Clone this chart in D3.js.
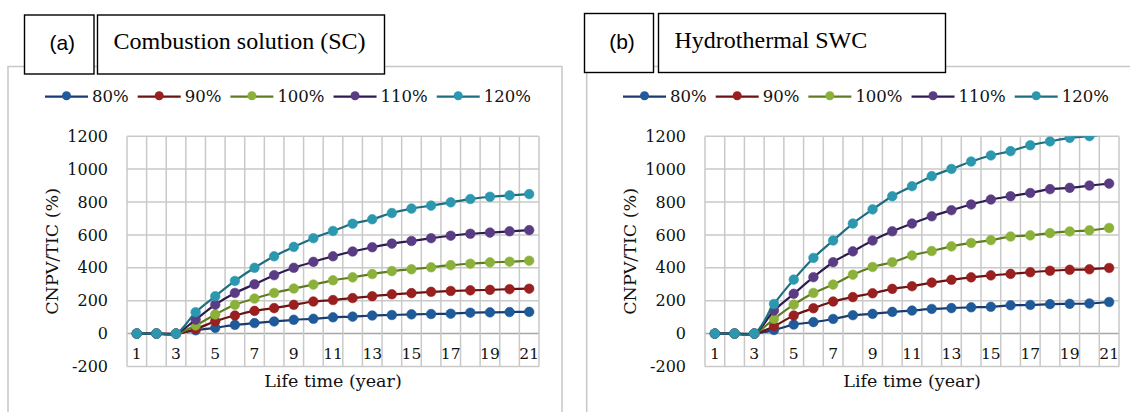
<!DOCTYPE html>
<html><head><meta charset="utf-8">
<script src="https://cdn.jsdelivr.net/npm/d3@7/dist/d3.min.js"></script>
<style>
html,body{margin:0;padding:0;background:#fff;}
svg{display:block;}
</style></head>
<body>
<svg id="chart" width="1130" height="412"></svg>
<script>
// ---------- DATA ----------
const years = d3.range(1, 22);
const xTickLabels = [1,3,5,7,9,11,13,15,17,19,21];
const yTicks = [-200,0,200,400,600,800,1000,1200];
const seriesNames = ["80%","90%","100%","110%","120%"];

// Panel (a) Combustion solution (SC)
const a80  = [0,0,0,20,35,53,64,74,84,90,99,103,110,113,117,119,121,127,129,131,132];
const a90  = [0,0,0,28,75,110,138,155,175,195,204,216,227,239,246,254,259,263,266,270,273];
const a100 = [0,0,0,50,116,175,213,247,274,298,324,342,362,380,391,403,416,425,433,437,443];
const a110 = [0,0,0,85,176,247,300,355,400,436,470,499,525,547,563,580,595,607,614,622,629];
const a120 = [0,0,0,130,227,320,400,470,527,580,624,668,695,733,760,778,798,818,832,840,848];

// Panel (b) Hydrothermal SWC
const b80  = [0,0,0,22,55,70,89,112,120,132,140,150,155,160,163,172,174,179,181,183,192];
const b90  = [0,0,0,45,110,154,195,222,245,272,288,310,327,342,354,363,373,382,388,391,399];
const b100 = [0,0,0,90,176,247,298,358,405,434,475,502,530,551,568,590,597,611,621,628,642];
const b110 = [0,0,0,140,242,343,434,500,566,622,669,713,750,785,815,835,855,878,886,900,912];
const b120 = [0,0,0,180,328,460,566,669,755,835,896,957,1001,1046,1083,1109,1145,1168,1190,1200,1215];

const panelLabels = ["(a)","(b)"];
const panelTitles = ["Combustion solution (SC)","Hydrothermal SWC"];

// ---------- STYLE ----------
const lineColors   = ["#1b3a6e","#6b1212","#5f7d20","#2e1b4f","#1e6e80"];
const markerColors = ["#1f5a9a","#9a1f1f","#8bb13b","#5a3c84","#2b98b0"];
const gridColor = "#c9c9c9";
const serif = "'DejaVu Serif', serif";
const textColor = "#111";

const svg = d3.select("#chart");
const defs = svg.append("defs");

function panel(idx, data, o) {
  const g = svg.append("g");
  g.append("rect").attr("x", o.boxX).attr("y", 66.5).attr("width", o.boxW).attr("height", 400)
    .attr("fill", "#fff").attr("stroke", "#c8c8c8").attr("stroke-width", 1.5);

  const x = d3.scaleBand().domain(years).range([o.left, o.right]).padding(0);
  const y = d3.scaleLinear().domain([-200, 1200]).range([366.5, 136.2]);

  const cid = "clip" + idx;
  defs.append("clipPath").attr("id", cid).append("rect")
    .attr("x", o.left).attr("y", y(1200)).attr("width", o.right - o.left).attr("height", y(-200) - y(1200));

  g.append("g").selectAll("line").data(yTicks).join("line")
    .attr("x1", o.left).attr("x2", o.right)
    .attr("y1", d => y(d)).attr("y2", d => y(d))
    .attr("stroke", d => d === 0 ? "#a8a8a8" : gridColor).attr("stroke-width", 1.5);
  const bounds = years.map(v => x(v)).concat([o.right]);
  g.append("g").selectAll("line").data(bounds).join("line")
    .attr("x1", d => d).attr("x2", d => d)
    .attr("y1", y(1200)).attr("y2", y(-200))
    .attr("stroke", gridColor).attr("stroke-width", 1.5);

  const yAxis = d3.axisLeft(y).tickValues(yTicks).tickSize(0).tickPadding(0)
    .tickFormat(d => (d < 0 ? "-" : "") + Math.abs(d));
  const ya = g.append("g").attr("transform", `translate(${o.left - 19},0)`).call(yAxis);
  ya.select(".domain").remove();
  ya.selectAll("text").attr("font-family", serif).attr("font-size", 16).attr("fill", textColor);

  const xAxis = d3.axisBottom(x).tickValues(xTickLabels).tickSize(0).tickPadding(0);
  const xa = g.append("g").attr("transform", `translate(0,${y(-200) - 19})`).call(xAxis);
  xa.select(".domain").remove();
  xa.selectAll("text").attr("font-family", serif).attr("font-size", 15.5).attr("fill", textColor);

  g.append("text").attr("x", (o.left + o.right) / 2).attr("y", 387)
    .attr("text-anchor", "middle").attr("font-family", serif).attr("font-size", 17.5).attr("fill", textColor)
    .text("Life time (year)");
  g.append("text").attr("transform", `translate(${o.left - 75},${(y(1200) + y(-200)) / 2}) rotate(-90)`)
    .attr("text-anchor", "middle").attr("dominant-baseline", "central")
    .attr("font-family", serif).attr("font-size", 17.5).attr("fill", textColor)
    .text("CNPV/TIC (%)");

  const line = d3.line().x((d, i) => x(years[i]) + x.bandwidth() / 2).y(d => y(d)).curve(d3.curveCatmullRom);
  const sg = g.append("g").attr("clip-path", `url(#${cid})`);
  data.forEach((vals, si) => {
    sg.append("path").attr("d", line(vals)).attr("fill", "none")
      .attr("stroke", lineColors[si]).attr("stroke-width", 2.2);
    sg.append("g").selectAll("circle").data(vals.map((v, i) => ({v, i})).filter(d => d.v <= 1200)).join("circle")
      .attr("cx", d => x(years[d.i]) + x.bandwidth() / 2).attr("cy", d => y(d.v)).attr("r", 4.8)
      .attr("fill", markerColors[si]).attr("stroke", markerColors[si]).attr("stroke-width", 0.6);
  });

  const lg = g.append("g");
  let lx = o.legendX;
  const ly = 96.7;
  seriesNames.forEach((nm, si) => {
    lg.append("line").attr("x1", lx).attr("x2", lx + 43).attr("y1", ly).attr("y2", ly)
      .attr("stroke", lineColors[si]).attr("stroke-width", 2.2);
    lg.append("circle").attr("cx", lx + 21.5).attr("cy", ly - 1).attr("r", 4.5).attr("fill", markerColors[si]);
    const t = lg.append("text").attr("x", lx + 47).attr("y", ly).attr("dominant-baseline", "central")
      .attr("font-family", serif).attr("font-size", 16.5).attr("fill", textColor).text(nm);
    lx = lx + 47 + t.node().getComputedTextLength() + 9;
  });

  g.append("rect").attr("x", o.t1x).attr("y", o.ty).attr("width", o.t1w).attr("height", 59)
    .attr("fill", "#fff").attr("stroke", "#000").attr("stroke-width", 1.4);
  g.append("rect").attr("x", o.t2x).attr("y", o.ty).attr("width", o.t2w).attr("height", 59)
    .attr("fill", "#fff").attr("stroke", "#000").attr("stroke-width", 1.4);
  g.append("text").attr("x", o.t1x + o.t1w / 2 + 3).attr("y", o.ty + 35)
    .attr("text-anchor", "middle").attr("font-family", "'Liberation Sans', Arial, sans-serif")
    .attr("font-size", 21).attr("fill", "#000").text(panelLabels[idx]);
  g.append("text").attr("x", o.t2x + 16).attr("y", o.ty + 34)
    .attr("font-family", "'Liberation Serif', 'Times New Roman', serif")
    .attr("font-size", 24).attr("fill", "#000").text(panelTitles[idx]);
}

panel(0, [a80, a90, a100, a110, a120], {
  boxX: 8, boxW: 554, left: 127, right: 539, legendX: 45,
  t1x: 24.5, t1w: 69.5, t2x: 97.5, t2w: 287, ty: 15
});
panel(1, [b80, b90, b100, b110, b120], {
  boxX: 586.7, boxW: 560, left: 705, right: 1119, legendX: 623,
  t1x: 584.5, t1w: 69, t2x: 658.5, t2w: 287, ty: 13.5
});
</script>
</body></html>
